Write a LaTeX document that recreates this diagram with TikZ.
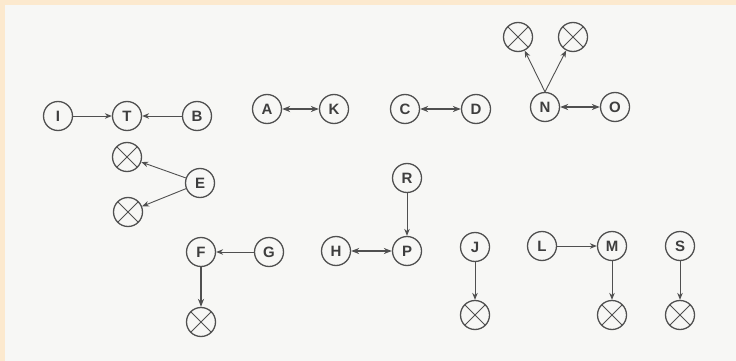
\documentclass[tikz,border=0pt]{standalone}
\usepackage{fontspec}
\setmainfont{Liberation Sans}
\usetikzlibrary{arrows.meta}
\definecolor{paper}{HTML}{F7F7F5}
\definecolor{edge}{HTML}{FCE9CE}
\definecolor{ink}{HTML}{505050}
\definecolor{letter}{HTML}{3E3E3E}
\tikzset{
  x=1pt, y=-1pt,
  state/.style={circle, draw=ink, line width=1.3pt, minimum size=29pt, inner sep=0pt,
    text=letter, font=\fontsize{15}{15}\selectfont\bfseries},
  sink/.style={circle, draw=ink, line width=1.3pt, minimum size=29pt, inner sep=0pt,
    path picture={\draw[ink, line width=1pt]
      (path picture bounding box.north west) -- (path picture bounding box.south east)
      (path picture bounding box.south west) -- (path picture bounding box.north east);}},
  flow/.style={draw=ink, line width=0.9pt, -{Stealth[length=7pt,width=5.5pt]}},
  heavy/.style={draw=ink, line width=1.6pt, -{Stealth[length=8pt,width=6pt]}},
  mutual/.style={draw=ink, line width=1.8pt, {Stealth[length=8pt,width=6pt]}-{Stealth[length=8pt,width=6pt]}},
}
\begin{document}
\begin{tikzpicture}
% paper with the tinted strip along the top and left
\fill[edge] (0,0) rectangle (736,361);
\fill[paper] (5,5) rectangle (736,361);
\useasboundingbox (0,0) rectangle (736,361);

% first row
\node[state] (I) at (58,116) {I};
\node[state] (T) at (127,116) {T};
\node[state] (B) at (197,116) {B};
\node[state] (A) at (267,109) {A};
\node[state] (K) at (334,109) {K};
\node[state] (C) at (405,109) {C};
\node[state] (D) at (476,109) {D};
\node[state] (N) at (545,107) {N};
\node[state] (O) at (615,107) {O};
\node[sink] (n1) at (518,37) {};
\node[sink] (n2) at (573,37) {};

% E group
\node[sink] (e1) at (127,157) {};
\node[state] (E) at (200,183) {E};
\node[sink] (e2) at (128,212) {};

% lower row
\node[state] (F) at (201,252) {F};
\node[state] (G) at (269,252) {G};
\node[sink] (f1) at (201,322) {};
\node[state] (R) at (407,178) {R};
\node[state] (H) at (336,251) {H};
\node[state] (P) at (407,251) {P};
\node[state] (J) at (475,247) {J};
\node[sink] (j1) at (475,315) {};
\node[state] (L) at (542,246) {L};
\node[state] (M) at (612,246) {M};
\node[sink] (m1) at (612,315) {};
\node[state] (S) at (680,246) {S};
\node[sink] (s1) at (680,315) {};

% connectors
\draw[flow] (I) -- (T);
\draw[flow] (B) -- (T);
\draw[mutual] (A) -- (K);
\draw[mutual] (C) -- (D);
\draw[mutual] (N) -- (O);
\draw[flow] (N.north) -- (n1);
\draw[flow] (N.north) -- (n2);
\draw[flow] (E) -- (e1);
\draw[flow] (E) -- (e2);
\draw[flow] (G) -- (F);
\draw[heavy] (F) -- (f1);
\draw[flow] (R) -- (P);
\draw[mutual] (H) -- (P);
\draw[flow] (J) -- (j1);
\draw[flow] (L) -- (M);
\draw[flow] (M) -- (m1);
\draw[flow] (S) -- (s1);
\end{tikzpicture}
\end{document}
